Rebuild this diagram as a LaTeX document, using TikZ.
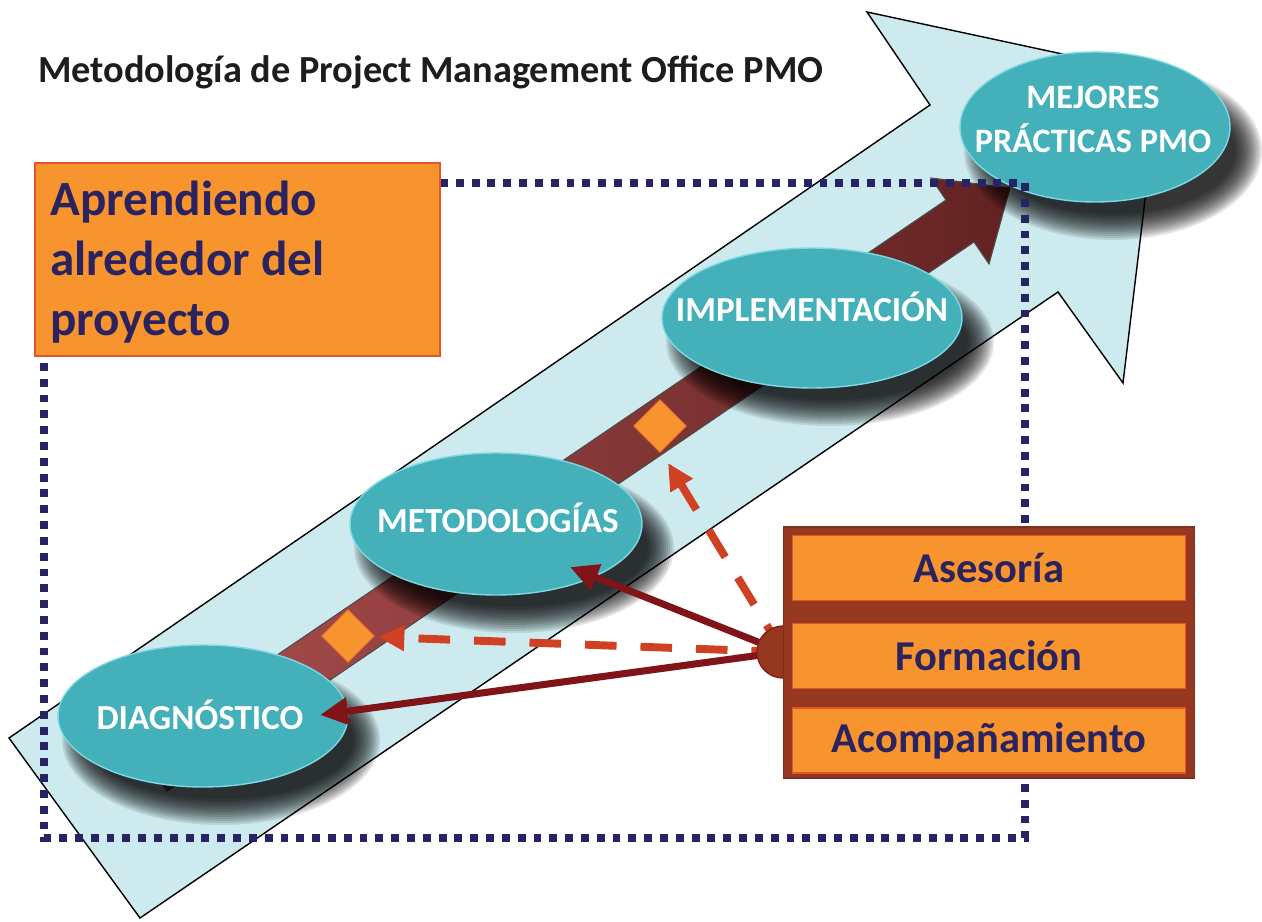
\documentclass[tikz,border=0pt]{standalone}
\usepackage{fontspec}
\setmainfont{Carlito}
\usetikzlibrary{shapes.geometric,arrows.meta}
\definecolor{arrowbg}{RGB}{205,235,238}
\definecolor{bandA}{RGB}{172,80,80}
\definecolor{bandB}{RGB}{98,34,34}
\definecolor{tealmain}{RGB}{68,176,186}
\definecolor{tealmid}{RGB}{88,198,210}
\definecolor{teallight}{RGB}{125,216,228}
\definecolor{orangefill}{RGB}{247,148,45}
\definecolor{orangeline}{RGB}{226,84,42}
\definecolor{navytext}{RGB}{43,35,96}
\definecolor{navydot}{RGB}{38,36,100}
\definecolor{brownbox}{RGB}{150,55,32}
\definecolor{solidred}{RGB}{128,20,24}
\definecolor{dashred}{RGB}{208,64,34}
\definecolor{titlegray}{RGB}{30,28,28}
\pgfdeclareradialshading{tealoval}{\pgfpoint{0bp}{0bp}}{color(0bp)=(tealmain); color(38bp)=(tealmain); color(45bp)=(tealmid); color(50bp)=(teallight)}
\pgfdeclarelayer{front}
\pgfsetlayers{main,front}
\newcommand\ovalshadow[4]{%
  \foreach \k in {0,...,13}{%
    \fill[black, opacity=0.1] (#1+18,#2+24) ellipse [x radius={(#3+14-2*\k)*0.02cm}, y radius={(#4+14-2*\k)*0.02cm}];
  }}
\begin{document}
\begin{tikzpicture}[x=0.02cm, y=-0.02cm,
  oval/.style={ellipse, shade, shading=tealoval, draw=teallight, line width=0.8pt, inner sep=0pt},
  ovaltext/.style={text=white, font=\fontsize{20}{25}\selectfont\bfseries, inner sep=0pt, align=center},
  diamondbox/.style={rectangle, rotate=45, fill=orangefill, draw=orangeline!50!orangefill, line width=0.5pt, minimum size=0.74cm, inner sep=0pt},
  solidarrow/.style={draw=solidred, line width=4pt, -{Triangle[length=16pt,width=15pt]}},
  dasharrow/.style={draw=dashred, line width=4.5pt, dash pattern=on 18pt off 13.6pt, -{Triangle[length=15pt,width=14pt]}},
  svcbox/.style={rectangle, fill=orangefill, draw=orangeline, line width=0.8pt, minimum width=7.86cm, minimum height=1.3cm, inner sep=0pt, text=navytext, font=\fontsize{24.2}{28}\selectfont\bfseries}]
\fill[white] (0,0) rectangle (1262,922);
\useasboundingbox (0,0) rectangle (1262,922);
% big light blue arrow
\draw[fill=arrowbg, draw=black, line width=0.8pt, line join=miter]
  (9,738) -- (930,105) -- (867,12) -- (1160,75) -- (1123,383) -- (1058,292) -- (140,918) -- cycle;
% dark red band arrow
\path[draw=black!70, line width=0.6pt, left color=bandA, right color=bandB]
  (139,749) -- (946,200) -- (931,178) -- (1010,188) -- (989,264) -- (974,242) -- (167,791) -- cycle;
% diamonds
\node[diamondbox] (dia1) at (348,636) {};
\node[diamondbox] (dia2) at (660,426) {};
% ovals
\ovalshadow{1095}{127}{135}{75}
\ovalshadow{812}{318}{150}{70}
\ovalshadow{496}{524}{146}{71}
\ovalshadow{203}{716}{145}{71}
\node[oval, minimum width=5.4cm, minimum height=3.0cm] (mej) at (1095,127) {};
\node[oval, minimum width=6.0cm, minimum height=2.8cm] (impl) at (812,318) {};
\node[oval, minimum width=5.84cm, minimum height=2.84cm] (met) at (496,524) {};
\node[oval, minimum width=5.8cm, minimum height=2.84cm] (diag) at (203,716) {};
\node[ovaltext, font=\fontsize{19.5}{25}\selectfont\bfseries] (mejT) at (1093,119.5) {MEJORES\\PRÁCTICAS PMO};
\node[ovaltext, anchor=base] (implT) at (812,322) {IMPLEMENTACIÓN};
\node[ovaltext, anchor=base] (metT) at (498,532) {METODOLOGÍAS};
\node[ovaltext, anchor=base] (diagT) at (200,729) {DIAGNÓSTICO};
% targets and connectors
\coordinate (tDiag) at (320,715);
\coordinate (tMet) at (570,567);
\coordinate (tDia1) at (378,637);
\coordinate (tDia2) at (668,463);
\coordinate (knobc) at (783,652);
\draw[dasharrow] (knobc) -- (tDia1);
\draw[dasharrow] (knobc) -- (tDia2);
\draw[solidarrow] (knobc) -- (tDiag);
\draw[solidarrow] (knobc) -- (tMet);
\begin{pgfonlayer}{front}
\draw[navydot, line width=4.5pt, dash pattern=on 4.5pt off 4.5pt]
  (440,183) -- (1025,183) -- (1025,838) -- (44,838) -- (44,357);
\node[circle, fill=brownbox, draw=solidred!70!brownbox, line width=0.8pt, minimum size=1.04cm, inner sep=0pt] (knob) at (knobc) {};
\node[rectangle, fill=brownbox, draw=brownbox!85!black, line width=0.6pt, minimum width=8.24cm, minimum height=5.02cm, inner sep=0pt] (svc) at (989,652.5) {};
\node[svcbox] (ase) at (989,568) {Asesoría};
\node[svcbox] (form) at (989,656) {Formación};
\node[svcbox] (acomp) at (989,740.5) {Acompañamiento};
\node[rectangle, fill=orangefill, draw=orangeline, line width=0.8pt, minimum width=8.1cm, minimum height=3.86cm, inner sep=0pt] (learn) at (237.5,259.5) {};
\node[anchor=north west, align=left, inner sep=0pt, text=navytext, font=\fontsize{28}{34}\selectfont\bfseries] (learnT) at (50,181) {Aprendiendo\\alrededor del\\proyecto};
\node[anchor=base west, inner sep=0pt, text=titlegray, font=\fontsize{21.8}{26}\selectfont\bfseries] (title) at (38,83) {Metodología de Project Management Office PMO};
\end{pgfonlayer}
\end{tikzpicture}
\end{document}
